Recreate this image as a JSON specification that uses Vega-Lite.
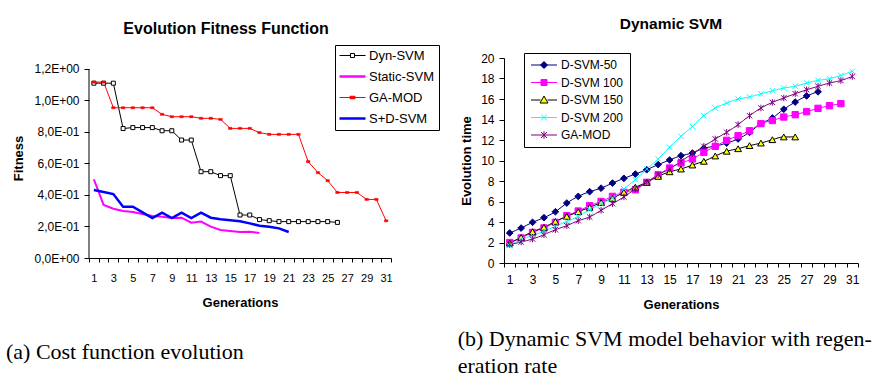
{
  "$schema": "https://vega.github.io/schema/vega-lite/v6.json",
  "padding": {"left": 5, "top": 16, "right": 0, "bottom": 0},
  "spacing": 17,
  "resolve": {"scale": {"fill": "independent", "stroke": "independent", "shape": "independent", "strokeWidth": "independent"}},
  "datasets": {
    "fit": [
      {"gen":1,"series":"Dyn-SVM","value":1.11},{"gen":2,"series":"Dyn-SVM","value":1.11},{"gen":3,"series":"Dyn-SVM","value":1.11},{"gen":4,"series":"Dyn-SVM","value":0.822},{"gen":5,"series":"Dyn-SVM","value":0.828},{"gen":6,"series":"Dyn-SVM","value":0.828},{"gen":7,"series":"Dyn-SVM","value":0.828},{"gen":8,"series":"Dyn-SVM","value":0.808},{"gen":9,"series":"Dyn-SVM","value":0.808},{"gen":10,"series":"Dyn-SVM","value":0.749},{"gen":11,"series":"Dyn-SVM","value":0.749},{"gen":12,"series":"Dyn-SVM","value":0.548},{"gen":13,"series":"Dyn-SVM","value":0.548},{"gen":14,"series":"Dyn-SVM","value":0.523},{"gen":15,"series":"Dyn-SVM","value":0.523},{"gen":16,"series":"Dyn-SVM","value":0.273},{"gen":17,"series":"Dyn-SVM","value":0.273},{"gen":18,"series":"Dyn-SVM","value":0.244},{"gen":19,"series":"Dyn-SVM","value":0.237},{"gen":20,"series":"Dyn-SVM","value":0.231},{"gen":21,"series":"Dyn-SVM","value":0.231},{"gen":22,"series":"Dyn-SVM","value":0.231},{"gen":23,"series":"Dyn-SVM","value":0.231},{"gen":24,"series":"Dyn-SVM","value":0.231},{"gen":25,"series":"Dyn-SVM","value":0.231},{"gen":26,"series":"Dyn-SVM","value":0.226},
      {"gen":1,"series":"Static-SVM","value":0.5},{"gen":2,"series":"Static-SVM","value":0.337},{"gen":3,"series":"Static-SVM","value":0.313},{"gen":4,"series":"Static-SVM","value":0.298},{"gen":5,"series":"Static-SVM","value":0.292},{"gen":6,"series":"Static-SVM","value":0.279},{"gen":7,"series":"Static-SVM","value":0.267},{"gen":8,"series":"Static-SVM","value":0.262},{"gen":9,"series":"Static-SVM","value":0.254},{"gen":10,"series":"Static-SVM","value":0.256},{"gen":11,"series":"Static-SVM","value":0.224},{"gen":12,"series":"Static-SVM","value":0.231},{"gen":13,"series":"Static-SVM","value":0.199},{"gen":14,"series":"Static-SVM","value":0.178},{"gen":15,"series":"Static-SVM","value":0.171},{"gen":16,"series":"Static-SVM","value":0.165},{"gen":17,"series":"Static-SVM","value":0.167},{"gen":18,"series":"Static-SVM","value":0.159},
      {"gen":1,"series":"GA-MOD","value":1.117},{"gen":2,"series":"GA-MOD","value":1.117},{"gen":3,"series":"GA-MOD","value":0.954},{"gen":4,"series":"GA-MOD","value":0.954},{"gen":5,"series":"GA-MOD","value":0.954},{"gen":6,"series":"GA-MOD","value":0.954},{"gen":7,"series":"GA-MOD","value":0.954},{"gen":8,"series":"GA-MOD","value":0.912},{"gen":9,"series":"GA-MOD","value":0.897},{"gen":10,"series":"GA-MOD","value":0.897},{"gen":11,"series":"GA-MOD","value":0.897},{"gen":12,"series":"GA-MOD","value":0.887},{"gen":13,"series":"GA-MOD","value":0.887},{"gen":14,"series":"GA-MOD","value":0.88},{"gen":15,"series":"GA-MOD","value":0.823},{"gen":16,"series":"GA-MOD","value":0.823},{"gen":17,"series":"GA-MOD","value":0.823},{"gen":18,"series":"GA-MOD","value":0.796},{"gen":19,"series":"GA-MOD","value":0.785},{"gen":20,"series":"GA-MOD","value":0.785},{"gen":21,"series":"GA-MOD","value":0.785},{"gen":22,"series":"GA-MOD","value":0.785},{"gen":23,"series":"GA-MOD","value":0.612},{"gen":24,"series":"GA-MOD","value":0.542},{"gen":25,"series":"GA-MOD","value":0.491},{"gen":26,"series":"GA-MOD","value":0.416},{"gen":27,"series":"GA-MOD","value":0.416},{"gen":28,"series":"GA-MOD","value":0.416},{"gen":29,"series":"GA-MOD","value":0.372},{"gen":30,"series":"GA-MOD","value":0.372},{"gen":31,"series":"GA-MOD","value":0.236},
      {"gen":1,"series":"S+D-SVM","value":0.432},{"gen":2,"series":"S+D-SVM","value":0.419},{"gen":3,"series":"S+D-SVM","value":0.406},{"gen":4,"series":"S+D-SVM","value":0.326},{"gen":5,"series":"S+D-SVM","value":0.326},{"gen":6,"series":"S+D-SVM","value":0.29},{"gen":7,"series":"S+D-SVM","value":0.254},{"gen":8,"series":"S+D-SVM","value":0.288},{"gen":9,"series":"S+D-SVM","value":0.254},{"gen":10,"series":"S+D-SVM","value":0.288},{"gen":11,"series":"S+D-SVM","value":0.254},{"gen":12,"series":"S+D-SVM","value":0.288},{"gen":13,"series":"S+D-SVM","value":0.256},{"gen":14,"series":"S+D-SVM","value":0.246},{"gen":15,"series":"S+D-SVM","value":0.239},{"gen":16,"series":"S+D-SVM","value":0.233},{"gen":17,"series":"S+D-SVM","value":0.22},{"gen":18,"series":"S+D-SVM","value":0.205},{"gen":19,"series":"S+D-SVM","value":0.199},{"gen":20,"series":"S+D-SVM","value":0.188},{"gen":21,"series":"S+D-SVM","value":0.165}
    ],
    "svm": [
      {"gen":1,"series":"D-SVM-50","value":2.93},{"gen":2,"series":"D-SVM-50","value":3.41},{"gen":3,"series":"D-SVM-50","value":3.97},{"gen":4,"series":"D-SVM-50","value":4.42},{"gen":5,"series":"D-SVM-50","value":5.0},{"gen":6,"series":"D-SVM-50","value":5.85},{"gen":7,"series":"D-SVM-50","value":6.5},{"gen":8,"series":"D-SVM-50","value":6.96},{"gen":9,"series":"D-SVM-50","value":7.3},{"gen":10,"series":"D-SVM-50","value":7.8},{"gen":11,"series":"D-SVM-50","value":8.26},{"gen":12,"series":"D-SVM-50","value":8.68},{"gen":13,"series":"D-SVM-50","value":9.1},{"gen":14,"series":"D-SVM-50","value":9.6},{"gen":15,"series":"D-SVM-50","value":10.05},{"gen":16,"series":"D-SVM-50","value":10.47},{"gen":17,"series":"D-SVM-50","value":10.73},{"gen":18,"series":"D-SVM-50","value":11.2},{"gen":19,"series":"D-SVM-50","value":11.4},{"gen":20,"series":"D-SVM-50","value":11.7},{"gen":21,"series":"D-SVM-50","value":12.1},{"gen":22,"series":"D-SVM-50","value":12.75},{"gen":23,"series":"D-SVM-50","value":13.6},{"gen":24,"series":"D-SVM-50","value":14.15},{"gen":25,"series":"D-SVM-50","value":15.0},{"gen":26,"series":"D-SVM-50","value":15.7},{"gen":27,"series":"D-SVM-50","value":16.3},{"gen":28,"series":"D-SVM-50","value":16.7},
      {"gen":1,"series":"D-SVM 100","value":2.0},{"gen":2,"series":"D-SVM 100","value":2.44},{"gen":3,"series":"D-SVM 100","value":2.98},{"gen":4,"series":"D-SVM 100","value":3.42},{"gen":5,"series":"D-SVM 100","value":3.96},{"gen":6,"series":"D-SVM 100","value":4.62},{"gen":7,"series":"D-SVM 100","value":5.07},{"gen":8,"series":"D-SVM 100","value":5.59},{"gen":9,"series":"D-SVM 100","value":6.01},{"gen":10,"series":"D-SVM 100","value":6.5},{"gen":11,"series":"D-SVM 100","value":6.9},{"gen":12,"series":"D-SVM 100","value":7.15},{"gen":13,"series":"D-SVM 100","value":7.87},{"gen":14,"series":"D-SVM 100","value":8.6},{"gen":15,"series":"D-SVM 100","value":9.27},{"gen":16,"series":"D-SVM 100","value":9.76},{"gen":17,"series":"D-SVM 100","value":10.15},{"gen":18,"series":"D-SVM 100","value":10.8},{"gen":19,"series":"D-SVM 100","value":11.38},{"gen":20,"series":"D-SVM 100","value":11.97},{"gen":21,"series":"D-SVM 100","value":12.42},{"gen":22,"series":"D-SVM 100","value":12.9},{"gen":23,"series":"D-SVM 100","value":13.6},{"gen":24,"series":"D-SVM 100","value":13.9},{"gen":25,"series":"D-SVM 100","value":14.24},{"gen":26,"series":"D-SVM 100","value":14.47},{"gen":27,"series":"D-SVM 100","value":14.76},{"gen":28,"series":"D-SVM 100","value":15.09},{"gen":29,"series":"D-SVM 100","value":15.35},{"gen":30,"series":"D-SVM 100","value":15.55},
      {"gen":1,"series":"D-SVM 150","value":1.95},{"gen":2,"series":"D-SVM 150","value":2.5},{"gen":3,"series":"D-SVM 150","value":3.06},{"gen":4,"series":"D-SVM 150","value":3.48},{"gen":5,"series":"D-SVM 150","value":4.06},{"gen":6,"series":"D-SVM 150","value":4.55},{"gen":7,"series":"D-SVM 150","value":5.0},{"gen":8,"series":"D-SVM 150","value":5.43},{"gen":9,"series":"D-SVM 150","value":5.9},{"gen":10,"series":"D-SVM 150","value":6.3},{"gen":11,"series":"D-SVM 150","value":6.9},{"gen":12,"series":"D-SVM 150","value":7.4},{"gen":13,"series":"D-SVM 150","value":7.87},{"gen":14,"series":"D-SVM 150","value":8.45},{"gen":15,"series":"D-SVM 150","value":8.9},{"gen":16,"series":"D-SVM 150","value":9.17},{"gen":17,"series":"D-SVM 150","value":9.56},{"gen":18,"series":"D-SVM 150","value":9.92},{"gen":19,"series":"D-SVM 150","value":10.44},{"gen":20,"series":"D-SVM 150","value":10.9},{"gen":21,"series":"D-SVM 150","value":11.15},{"gen":22,"series":"D-SVM 150","value":11.45},{"gen":23,"series":"D-SVM 150","value":11.7},{"gen":24,"series":"D-SVM 150","value":12.03},{"gen":25,"series":"D-SVM 150","value":12.3},{"gen":26,"series":"D-SVM 150","value":12.3},
      {"gen":1,"series":"D-SVM 200","value":1.7},{"gen":2,"series":"D-SVM 200","value":2.28},{"gen":3,"series":"D-SVM 200","value":2.67},{"gen":4,"series":"D-SVM 200","value":3.09},{"gen":5,"series":"D-SVM 200","value":3.58},{"gen":6,"series":"D-SVM 200","value":4.06},{"gen":7,"series":"D-SVM 200","value":4.55},{"gen":8,"series":"D-SVM 200","value":5.2},{"gen":9,"series":"D-SVM 200","value":5.79},{"gen":10,"series":"D-SVM 200","value":6.34},{"gen":11,"series":"D-SVM 200","value":7.22},{"gen":12,"series":"D-SVM 200","value":8.13},{"gen":13,"series":"D-SVM 200","value":9.17},{"gen":14,"series":"D-SVM 200","value":10.15},{"gen":15,"series":"D-SVM 200","value":11.3},{"gen":16,"series":"D-SVM 200","value":12.36},{"gen":17,"series":"D-SVM 200","value":13.33},{"gen":18,"series":"D-SVM 200","value":14.37},{"gen":19,"series":"D-SVM 200","value":15.12},{"gen":20,"series":"D-SVM 200","value":15.6},{"gen":21,"series":"D-SVM 200","value":16.0},{"gen":22,"series":"D-SVM 200","value":16.2},{"gen":23,"series":"D-SVM 200","value":16.5},{"gen":24,"series":"D-SVM 200","value":16.8},{"gen":25,"series":"D-SVM 200","value":17.07},{"gen":26,"series":"D-SVM 200","value":17.24},{"gen":27,"series":"D-SVM 200","value":17.56},{"gen":28,"series":"D-SVM 200","value":17.82},{"gen":29,"series":"D-SVM 200","value":17.98},{"gen":30,"series":"D-SVM 200","value":18.3},{"gen":31,"series":"D-SVM 200","value":18.7},
      {"gen":1,"series":"GA-MOD","value":1.79},{"gen":2,"series":"GA-MOD","value":2.05},{"gen":3,"series":"GA-MOD","value":2.34},{"gen":4,"series":"GA-MOD","value":2.76},{"gen":5,"series":"GA-MOD","value":3.25},{"gen":6,"series":"GA-MOD","value":3.64},{"gen":7,"series":"GA-MOD","value":4.13},{"gen":8,"series":"GA-MOD","value":4.49},{"gen":9,"series":"GA-MOD","value":5.14},{"gen":10,"series":"GA-MOD","value":5.79},{"gen":11,"series":"GA-MOD","value":6.44},{"gen":12,"series":"GA-MOD","value":7.22},{"gen":13,"series":"GA-MOD","value":7.87},{"gen":14,"series":"GA-MOD","value":8.62},{"gen":15,"series":"GA-MOD","value":9.17},{"gen":16,"series":"GA-MOD","value":9.92},{"gen":17,"series":"GA-MOD","value":10.67},{"gen":18,"series":"GA-MOD","value":11.38},{"gen":19,"series":"GA-MOD","value":12.1},{"gen":20,"series":"GA-MOD","value":12.75},{"gen":21,"series":"GA-MOD","value":13.5},{"gen":22,"series":"GA-MOD","value":14.37},{"gen":23,"series":"GA-MOD","value":15.12},{"gen":24,"series":"GA-MOD","value":15.67},{"gen":25,"series":"GA-MOD","value":16.1},{"gen":26,"series":"GA-MOD","value":16.52},{"gen":27,"series":"GA-MOD","value":16.9},{"gen":28,"series":"GA-MOD","value":17.24},{"gen":29,"series":"GA-MOD","value":17.56},{"gen":30,"series":"GA-MOD","value":17.8},{"gen":31,"series":"GA-MOD","value":18.2}
    ]
  },
  "hconcat": [
    {
      "title": {"text": "(a) Cost function evolution", "orient": "bottom", "anchor": "start", "font": "Liberation Serif", "fontSize": 22, "fontWeight": "normal", "color": "black", "offset": 33, "dx": -7},
      "resolve": {"scale": {"fill": "independent", "stroke": "independent", "shape": "independent", "strokeWidth": "independent"}},
      "vconcat": [
        {
          "width": 302,
          "height": 200,
          "title": {"text": "Evolution Fitness Function", "fontSize": 16, "fontWeight": "bold", "anchor": "middle", "frame": "group", "dx": -14, "offset": 8, "color": "black"},
          "data": {"name": "fit"},
          "encoding": {
            "x": {"field": "gen", "type": "ordinal", "scale": {"type": "band", "paddingInner": 0, "paddingOuter": 0},
                  "axis": {"title": "Generations", "labelAngle": 0, "tickBand": "extent", "labelExpr": "datum.value % 2 == 1 ? datum.label : ''", "labelFontSize": 11, "labelPadding": 10, "tickSize": 4, "titlePadding": 13, "titleFontSize": 13, "labelOverlap": false}},
            "y": {"field": "value", "type": "quantitative", "scale": {"domain": [0, 1.26984], "nice": false},
                  "axis": {"title": "Fitness", "domain": false, "values": [0, 0.2, 0.4, 0.6, 0.8, 1.0, 1.2], "labelExpr": "datum.value == 0 ? '0,0E+00' : (datum.value >= 1 ? replace(format(datum.value, '.1f'), '.', ',') + 'E+00' : replace(format(datum.value * 10, '.1f'), '.', ',') + 'E-01')", "labelFontSize": 12, "labelPadding": 5, "tickSize": 5, "titlePadding": 8, "titleFontSize": 13}}
          },
          "layer": [
            {"transform": [{"filter": "datum.series == 'Dyn-SVM' && datum.gen == 1"}], "mark": {"type": "rule", "color": "black", "strokeWidth": 1},
             "encoding": {"x": {"datum": 1, "type": "ordinal", "bandPosition": 0}, "y": {"datum": 0, "type": "quantitative"}, "y2": {"datum": 1.2}}},
            {"transform": [{"filter": "datum.series == 'Dyn-SVM'"}], "mark": {"type": "line", "stroke": "#000000", "strokeWidth": 1}},
            {"transform": [{"filter": "datum.series == 'GA-MOD'"}], "mark": {"type": "line", "stroke": "#FF0000", "strokeWidth": 1}},
            {"transform": [{"filter": "datum.series == 'Static-SVM'"}], "mark": {"type": "line", "stroke": "#FF00FF", "strokeWidth": 2}},
            {"transform": [{"filter": "datum.series == 'S+D-SVM'"}], "mark": {"type": "line", "stroke": "#0000FF", "strokeWidth": 2.5}},
            {"transform": [{"filter": "datum.series == 'Dyn-SVM'"}], "mark": {"type": "point", "shape": "square", "size": 16, "filled": true, "fill": "white", "stroke": "black", "strokeWidth": 1, "opacity": 1}},
            {"transform": [{"filter": "datum.series == 'GA-MOD'"}], "mark": {"type": "point", "shape": "M-1,-0.6L1,-0.6L1,0.6L-1,0.6Z", "size": 12, "filled": true, "fill": "#FF0000", "stroke": "#FF0000", "strokeWidth": 0.5, "opacity": 1}},
            {
              "transform": [{"filter": "datum.gen == 1"}],
              "mark": {"type": "point", "filled": true, "opacity": 0},
              "encoding": {
                "fill": {"field": "series", "type": "nominal", "scale": {"domain": ["Dyn-SVM", "Static-SVM", "GA-MOD", "S+D-SVM"], "range": ["white", "transparent", "#FF0000", "transparent"]},
                  "legend": {"orient": "none", "legendX": 246, "legendY": -13, "title": null, "strokeColor": "black", "fillColor": "white", "padding": 4, "labelFontSize": 13, "labelColor": "black", "symbolSize": 100, "symbolOpacity": 1, "labelOffset": 17, "rowPadding": 7}},
                "stroke": {"field": "series", "type": "nominal", "scale": {"domain": ["Dyn-SVM", "Static-SVM", "GA-MOD", "S+D-SVM"], "range": ["#000000", "#FF00FF", "#FF0000", "#0000FF"]},
                  "legend": {"orient": "none", "legendX": 246, "legendY": -13, "title": null, "strokeColor": "black", "fillColor": "white", "padding": 4, "labelFontSize": 13, "labelColor": "black", "symbolSize": 100, "symbolOpacity": 1, "labelOffset": 17, "rowPadding": 7}},
                "shape": {"field": "series", "type": "nominal", "scale": {"domain": ["Dyn-SVM", "Static-SVM", "GA-MOD", "S+D-SVM"], "range": ["M-1.2,0L1,0M1.8,0L4,0M1,-0.4L1.8,-0.4L1.8,0.4L1,0.4Z", "M-1.2,0L4,0", "M-1.2,0L4,0M0.9,-0.25L1.9,-0.25L1.9,0.25L0.9,0.25Z", "M-1.2,0L4,0"]},
                  "legend": {"orient": "none", "legendX": 246, "legendY": -13, "title": null, "strokeColor": "black", "fillColor": "white", "padding": 4, "labelFontSize": 13, "labelColor": "black", "symbolSize": 100, "symbolOpacity": 1, "labelOffset": 17, "rowPadding": 7}},
                "strokeWidth": {"field": "series", "type": "nominal", "scale": {"type": "ordinal", "domain": ["Dyn-SVM", "Static-SVM", "GA-MOD", "S+D-SVM"], "range": [1, 2.5, 1, 2.5]},
                  "legend": {"orient": "none", "legendX": 246, "legendY": -13, "title": null, "strokeColor": "black", "fillColor": "white", "padding": 4, "labelFontSize": 13, "labelColor": "black", "symbolSize": 100, "symbolOpacity": 1, "labelOffset": 17, "rowPadding": 7}}
              }
            }
          ]
        }
      ]
    },
    {
      "title": {"text": ["(b) Dynamic SVM model behavior with regen-", "eration rate"], "orient": "bottom", "anchor": "start", "font": "Liberation Serif", "fontSize": 22, "fontWeight": "normal", "color": "black", "offset": 18, "lineHeight": 27, "dx": -3},
      "resolve": {"scale": {"fill": "independent", "stroke": "independent", "shape": "independent", "strokeWidth": "independent"}},
      "vconcat": [
        {
          "width": 354,
          "height": 205,
          "title": {"text": "Dynamic SVM", "fontSize": 15.5, "fontWeight": "bold", "anchor": "middle", "frame": "group", "dx": -10, "offset": 20, "color": "black"},
          "data": {"name": "svm"},
          "encoding": {
            "x": {"field": "gen", "type": "ordinal", "scale": {"type": "band", "paddingInner": 0, "paddingOuter": 0},
                  "axis": {"title": "Generations", "labelAngle": 0, "tickBand": "extent", "labelExpr": "datum.value % 2 == 1 ? datum.label : ''", "labelFontSize": 12, "labelPadding": 7, "tickSize": 4, "titlePadding": 13, "titleFontSize": 13, "labelOverlap": false}},
            "y": {"field": "value", "type": "quantitative", "scale": {"domain": [0, 20], "nice": false},
                  "axis": {"title": "Evolution time", "values": [0, 2, 4, 6, 8, 10, 12, 14, 16, 18, 20], "labelFontSize": 12, "labelPadding": 5, "tickSize": 5, "titlePadding": 7, "titleFontSize": 13}}
          },
          "layer": [
            {"transform": [{"filter": "datum.series == 'D-SVM-50'"}], "mark": {"type": "line", "interpolate": "monotone", "stroke": "#000080", "strokeWidth": 1}},
            {"transform": [{"filter": "datum.series == 'D-SVM 100'"}], "mark": {"type": "line", "interpolate": "monotone", "stroke": "#FF00FF", "strokeWidth": 1}},
            {"transform": [{"filter": "datum.series == 'D-SVM 150'"}], "mark": {"type": "line", "interpolate": "monotone", "stroke": "#000000", "strokeWidth": 1}},
            {"transform": [{"filter": "datum.series == 'D-SVM 200'"}], "mark": {"type": "line", "interpolate": "monotone", "stroke": "#00FFFF", "strokeWidth": 1}},
            {"transform": [{"filter": "datum.series == 'GA-MOD'"}], "mark": {"type": "line", "interpolate": "monotone", "stroke": "#800080", "strokeWidth": 1}},
            {"transform": [{"filter": "datum.series == 'D-SVM-50'"}], "mark": {"type": "point", "shape": "diamond", "size": 45, "filled": true, "fill": "#000080", "stroke": "#000080", "strokeWidth": 1, "opacity": 1}},
            {"transform": [{"filter": "datum.series == 'D-SVM 100'"}], "mark": {"type": "point", "shape": "square", "size": 40, "filled": true, "fill": "#FF00FF", "stroke": "#FF00FF", "strokeWidth": 1, "opacity": 1}},
            {"transform": [{"filter": "datum.series == 'D-SVM 150'"}], "mark": {"type": "point", "shape": "triangle-up", "size": 45, "filled": true, "fill": "#FFFF00", "stroke": "#000000", "strokeWidth": 1, "opacity": 1}},
            {"transform": [{"filter": "datum.series == 'D-SVM 200'"}], "mark": {"type": "point", "shape": "M-1,-1L1,1M-1,1L1,-1", "size": 30, "filled": false, "stroke": "#00FFFF", "strokeWidth": 1, "opacity": 1}},
            {"transform": [{"filter": "datum.series == 'GA-MOD'"}], "mark": {"type": "point", "shape": "M-1,-1L1,1M-1,1L1,-1M0,-1.2L0,1.2", "size": 30, "filled": false, "stroke": "#800080", "strokeWidth": 1, "opacity": 1}},
            {
              "transform": [{"filter": "datum.gen == 1"}],
              "mark": {"type": "point", "filled": true, "opacity": 0},
              "encoding": {
                "fill": {"field": "series", "type": "nominal", "scale": {"domain": ["D-SVM-50", "D-SVM 100", "D-SVM 150", "D-SVM 200", "GA-MOD"], "range": ["#000080", "#FF00FF", "#FFFF00", "transparent", "transparent"]},
                  "legend": {"orient": "none", "legendX": 20, "legendY": -5, "title": null, "strokeColor": "black", "fillColor": "white", "padding": 6, "labelFontSize": 12, "labelColor": "black", "symbolSize": 100, "symbolOpacity": 1, "symbolStrokeWidth": 1, "labelOffset": 19, "rowPadding": 5.5}},
                "stroke": {"field": "series", "type": "nominal", "scale": {"domain": ["D-SVM-50", "D-SVM 100", "D-SVM 150", "D-SVM 200", "GA-MOD"], "range": ["#000080", "#FF00FF", "#000000", "#00FFFF", "#800080"]},
                  "legend": {"orient": "none", "legendX": 20, "legendY": -5, "title": null, "strokeColor": "black", "fillColor": "white", "padding": 6, "labelFontSize": 12, "labelColor": "black", "symbolSize": 100, "symbolOpacity": 1, "symbolStrokeWidth": 1, "labelOffset": 19, "rowPadding": 5.5}},
                "shape": {"field": "series", "type": "nominal", "scale": {"domain": ["D-SVM-50", "D-SVM 100", "D-SVM 150", "D-SVM 200", "GA-MOD"], "range": ["M-1,0L4.2,0M1.6,-0.7L2.3,0L1.6,0.7L0.9,0Z", "M-1,0L1,0M2.2,0L4.2,0M1,-0.6L2.2,-0.6L2.2,0.6L1,0.6Z", "M-1,0L0.9,0M2.3,0L4.2,0M1.6,-0.8L2.4,0.6L0.8,0.6Z", "M-1,0L4.2,0M1,-0.6L2.2,0.6M1,0.6L2.2,-0.6", "M-1,0L4.2,0M1,-0.6L2.2,0.6M1,0.6L2.2,-0.6M1.6,-0.75L1.6,0.75"]},
                  "legend": {"orient": "none", "legendX": 20, "legendY": -5, "title": null, "strokeColor": "black", "fillColor": "white", "padding": 6, "labelFontSize": 12, "labelColor": "black", "symbolSize": 100, "symbolOpacity": 1, "symbolStrokeWidth": 1, "labelOffset": 19, "rowPadding": 5.5}}
              }
            }
          ]
        }
      ]
    }
  ],
  "config": {
    "font": "Liberation Sans",
    "view": {"stroke": null},
    "axis": {"domainColor": "black", "tickColor": "black", "labelColor": "black", "titleColor": "black", "grid": false, "labelFont": "Liberation Sans", "titleFont": "Liberation Sans", "titleFontWeight": "bold"},
    "legend": {"labelFont": "Liberation Sans"},
    "title": {"font": "Liberation Sans", "color": "black"}
  }
}
